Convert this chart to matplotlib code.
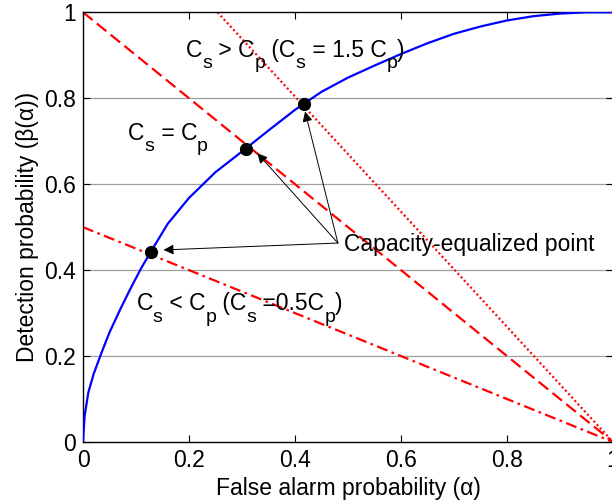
import matplotlib
matplotlib.use("Agg")
import matplotlib.pyplot as plt
import matplotlib.transforms as mtransforms
import numpy as np

plt.rcParams['font.family'] = ['Liberation Sans', 'DejaVu Sans']

# ROC curve
roc_alpha = [0, 0.003, 0.01, 0.02, 0.035, 0.05, 0.07, 0.09, 0.11, 0.13, 0.16, 0.20,
             0.25, 0.30, 0.35, 0.40, 0.45, 0.50, 0.55, 0.60, 0.65, 0.70, 0.75,
             0.80, 0.85, 0.90, 0.95, 1.0]
roc_beta = [0, 0.06, 0.115, 0.158, 0.208, 0.255, 0.308, 0.358, 0.405, 0.447, 0.508, 0.568,
            0.628, 0.676, 0.725, 0.773, 0.815, 0.848, 0.876, 0.903, 0.928, 0.950,
            0.967, 0.981, 0.991, 0.997, 1.0, 1.0]

# Capacity lines beta = k (1 - alpha)
line_slopes = [0.5, 1.0, 1.34]
line_styles = ['-.', '--', ':']

# Capacity-equalized points
eq_alpha = [0.128, 0.3075, 0.417]
eq_beta = [0.443, 0.683, 0.786]
arrow_tips = [(0.152, 0.447), (0.329, 0.672), (0.419, 0.769)]
arrow_tail = (0.481, 0.463)

ticks = [0, 0.2, 0.4, 0.6, 0.8, 1.0]
tick_labels = ['0', '0.2', '0.4', '0.6', '0.8', '1']

FS = 16.5
SUB_FS = FS * 0.85
SUB_DROP = 11.5  # pixels

fig = plt.figure(figsize=(6.12, 5.04), dpi=100)
ax = fig.add_axes([83 / 612, 62 / 504, 530 / 612, 429.7 / 504])

ax.set_xlim(0, 1)
ax.set_ylim(0, 1)
for yv in ticks[1:-1]:
    ax.axhline(yv, color='#a0a0a0', lw=0.9, zorder=0)

ax.plot(roc_alpha, roc_beta, color='#0000ff', lw=1.6, zorder=3)

for k, ls in zip(line_slopes, line_styles):
    x0 = max(0.0, 1 - 1 / k)
    xs = np.array([x0, 1.0])
    ys = k * (1 - xs)
    if ls == '--':
        ax.plot(xs, ys, color='#ff0000', lw=1.6, dashes=(5.5, 2.5), zorder=2)
    elif ls == '-.':
        ax.plot(xs, ys, color='#ff0000', lw=1.6, dashes=(5, 2, 1.2, 2), zorder=2)
    else:
        ax.plot(xs, ys, color='#ff0000', lw=1.6, dashes=(0.9, 1.2), zorder=2)

ax.plot(eq_alpha, eq_beta, 'o', color='black', ms=8.5, zorder=5)

for tip in arrow_tips:
    ax.annotate('', xy=tip, xytext=arrow_tail,
                arrowprops=dict(arrowstyle='-|>', color='black', lw=0.7,
                                mutation_scale=15, shrinkA=0, shrinkB=0),
                zorder=6)

renderer = fig.canvas.get_renderer()


def rich_text(x, y, parts):
    """parts: list of (string, is_subscript)."""
    dx = 0.0
    for s, sub in parts:
        size = SUB_FS if sub else FS
        dy = -SUB_DROP if sub else 0.0
        tr = mtransforms.offset_copy(ax.transData, fig=fig, x=dx, y=dy, units='dots')
        t = ax.text(x, y, s, fontsize=size, va='baseline', ha='left', transform=tr, zorder=7)
        w = t.get_window_extent(renderer).width
        dx += w


rich_text(0.194, 0.897, [('C', False), ('s', True), (' > C', False), ('p', True),
                         (' (C', False), ('s', True), (' = 1.5 C', False), ('p', True),
                         (')', False)])
rich_text(0.0855, 0.703, [('C', False), ('s', True), (' = C', False), ('p', True)])
ax.text(0.4925, 0.445, 'Capacity-equalized point', fontsize=FS, va='baseline', ha='left', zorder=7)
rich_text(0.101, 0.307, [('C', False), ('s', True), (' < C', False), ('p', True),
                         (' (C', False), ('s', True), (' =0.5C', False), ('p', True),
                         (')', False)])

ax.set_xticks(ticks)
ax.set_xticklabels(tick_labels, fontsize=FS)
ax.set_yticks(ticks)
ax.set_yticklabels(tick_labels, fontsize=FS)
ax.tick_params(direction='in', top=True, right=True, length=5, width=0.8, pad=5)
for s in ax.spines.values():
    s.set_linewidth(1.0)

ax.set_xlabel('False alarm probability (α)', fontsize=FS, labelpad=4)
ax.set_ylabel('Detection probability (β(α))', fontsize=FS, labelpad=4)

fig.savefig('out.png', dpi=100)
